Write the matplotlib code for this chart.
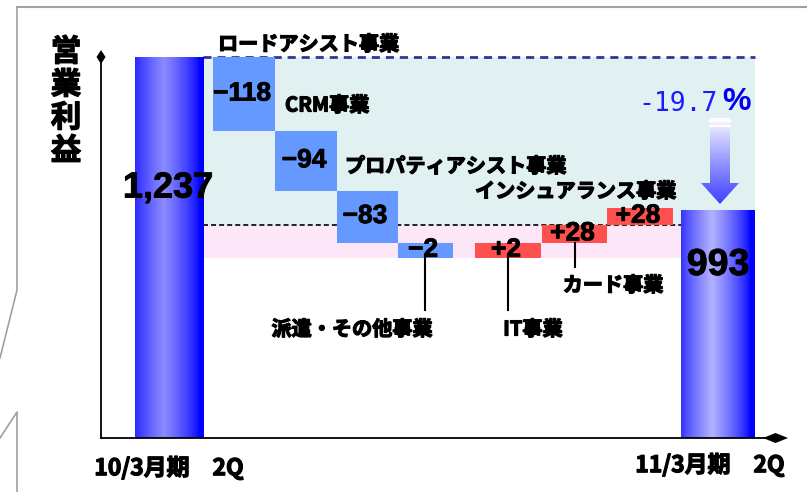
import numpy as np
import matplotlib
matplotlib.use("Agg")
import matplotlib.pyplot as plt
from matplotlib.patches import Polygon, Rectangle
from matplotlib import patheffects as pe

plt.rcParams['font.family'] = ['Noto Sans CJK JP', 'DejaVu Sans']
plt.rcParams['lines.scale_dashes'] = False

# ---- data -------------------------------------------------------------
period_labels = ['10/3月期\u30002Q', '11/3月期\u30002Q']
segments = ['ロードアシスト事業', 'CRM事業', 'プロパティアシスト事業', '派遣・その他事業',
            'IT事業', 'カード事業', 'インシュアランス事業']
changes = [-118, -94, -83, -2, 2, 28, 28]
start_total = 1237
end_total = 993
change_pct = -19.7
axis_title = '営業利益'

# ---- layout -----------------------------------------------------------
W, H = 807, 492
fig = plt.figure(figsize=(W / 100, H / 100), dpi=100)
fig.patch.set_facecolor('white')

ax = fig.add_axes([101 / W, 54 / H, 689 / W, 408 / H])
ylim = (632, 1280)
ax.axis('off')

ov = fig.add_axes([0, 0, 1, 1], zorder=5)
ov.axis('off')
ov.patch.set_alpha(0)

x_centers = [169, 244, 306, 367, 425, 508, 574.5, 640, 718]
widths = [68, 62, 62, 61, 55, 66, 65, 66, 74]
min_visible = 24

heavy = [pe.withStroke(linewidth=0.9, foreground='black')]
heavy_num = [pe.withStroke(linewidth=0.6, foreground='black')]
bold_num = dict(family='Liberation Sans', weight='bold', color='black', path_effects=heavy_num)
jp_bold = dict(family=['Noto Sans CJK JP', 'DejaVu Sans'], weight='bold', color='black',
               path_effects=heavy)


def gradient_bar(axis, xc, w, top, peak):
    t = np.linspace(0, 1, 256)
    light = np.clip(1 - np.abs(t - 0.42) / 0.52, 0, 1) ** 0.75
    blue = np.array([0.0, 0.0, 1.0])
    img = blue[None, :] + light[:, None] * (np.array(peak) - blue)[None, :]
    axis.imshow(img[None, :, :], extent=(xc - w / 2, xc + w / 2, ylim[0], top),
                aspect='auto', origin='lower', interpolation='bilinear', zorder=3)


# waterfall levels
levels = [start_total]
for d in changes:
    levels.append(levels[-1] + d)

bars = []
for i, d in enumerate(changes):
    before, after = levels[i], levels[i + 1]
    lo, hi = min(before, after), max(before, after)
    if hi - lo < min_visible:
        lo = hi - min_visible
    bars.append((lo, hi))

level_ins = levels[-2]
lowest = min(b[0] for b in bars)

# background bands
xl = x_centers[0] + widths[0] / 2
ax.add_patch(Rectangle((xl, level_ins), x_centers[-1] + widths[-1] / 2 - xl,
                       start_total - level_ins, facecolor='#E1F1F1', edgecolor='none', zorder=1))
ax.add_patch(Rectangle((xl, lowest), x_centers[-1] - widths[-1] / 2 - xl,
                       level_ins - lowest, facecolor='#FCE6F8', edgecolor='none', zorder=1))
ax.plot([xl, x_centers[-1] + widths[-1] / 2], [start_total] * 2, color='#333399', lw=2,
        dashes=(5.8, 4.3), zorder=2)
ax.plot([xl, x_centers[-1] - widths[-1] / 2], [level_ins] * 2, color='black', lw=1.2,
        dashes=(3.6, 2.2), zorder=2)

# total bars
gradient_bar(ax, x_centers[0], widths[0], start_total, (0.55, 0.55, 1.0))
gradient_bar(ax, x_centers[-1], widths[-1], end_total, (0.70, 0.70, 1.0))

# change bars
for i, d in enumerate(changes):
    lo, hi = bars[i]
    xc, w = x_centers[i + 1], widths[i + 1]
    ax.bar(xc, hi - lo, bottom=lo, width=w, color='#6699FF' if d < 0 else '#FF5050',
           edgecolor='none', zorder=3)
    ax.text(xc - 2, (lo + hi) / 2 + 1, f'{d:+d}'.replace('-', '\u2212'), ha='center',
            va='center', fontsize=19, zorder=6, **bold_num)

# leader lines to segment names below the bars
leaders = {3: 836, 4: 836, 5: 903}
for i, yend in leaders.items():
    lo, _ = bars[i]
    ax.plot([x_centers[i + 1], x_centers[i + 1]], [lo, yend], color='black', lw=1.5, zorder=4)
ax.set_ylim(*ylim)
ax.set_xlim(101, 790)

# segment names
name_pos = [(218, 44, 'left'), (285, 105, 'left'), (345, 166, 'left'), (352, 329, 'center'),
            (533, 329, 'center'), (613, 285, 'center'), (475, 191, 'left')]
for name, (x, y, ha) in zip(segments, name_pos):
    ov.text(x, y, name, ha=ha, va='center', fontsize=14.5, **jp_bold)

# total values
ov.text(168, 188, f'{start_total:,}', ha='center', va='center', fontsize=26, **bold_num)
ov.text(718, 265, f'{end_total:,}', ha='center', va='center', fontsize=27, **bold_num)

# axis lines with diamond ends
ov.plot([101, 101], [60, 438], color='black', lw=1.3)
ov.plot([101, 770], [438, 438], color='black', lw=1.3)
ov.add_patch(Polygon([(101, 50), (105.5, 57), (101, 64), (96.5, 57)], closed=True,
                     facecolor='black', edgecolor='none'))
ov.add_patch(Polygon([(763, 438), (775.5, 433), (788, 438), (775.5, 443)], closed=True,
                     facecolor='black', edgecolor='none'))

# axis title, stacked vertically
for k, ch in enumerate(axis_title):
    ov.text(66, 52 + k * 33, ch, ha='center', va='center', fontsize=22, **jp_bold)

# period labels
ov.text(169, 468, period_labels[0], ha='center', va='center', fontsize=16.5, **jp_bold)
ov.text(710, 465, period_labels[1], ha='center', va='center', fontsize=16.5, **jp_bold)

# change arrow with vertical gradient
arrow = Polygon([(710, 118), (730, 118), (730, 183), (739, 183), (720, 204), (701, 183),
                 (710, 183)], closed=True, facecolor='none', edgecolor='none')
ov.add_patch(arrow)
g = np.linspace(0, 1, 128)
top_c = np.array([1.0, 1.0, 1.0])
bot_c = np.array([0.25, 0.25, 1.0])
grad = top_c[None, :] + (g ** 0.9)[:, None] * (bot_c - top_c)[None, :]
im = ov.imshow(grad[:, None, :], extent=(700, 740, 204, 118), origin='upper',
               aspect='auto', interpolation='bilinear', zorder=4)
im.set_clip_path(arrow)
for yy in (121, 126):
    ov.plot([710, 730], [yy, yy], color='white', lw=1.5, zorder=4.5)

# percentage change
ov.text(718, 104, f'{change_pct:.1f}', ha='right', va='center', fontsize=19,
        family='DejaVu Sans Mono', color='#1a1aff')
ov.text(722, 102, '%', ha='left', va='center', fontsize=23, family='Liberation Sans',
        weight='bold', color='#0000ee')

# frame lines
fc = '#a0a0a0'
ov.plot([17, 807], [7, 7], color=fc, lw=1.5)
ov.plot([17, 17, 0], [7, 290, 358], color=fc, lw=1.2)
ov.plot([0, 17, 17], [438, 412, 492], color=fc, lw=1.2)

ov.set_xlim(0, W)
ov.set_ylim(H, 0)

fig.savefig('out.png', dpi=100)
